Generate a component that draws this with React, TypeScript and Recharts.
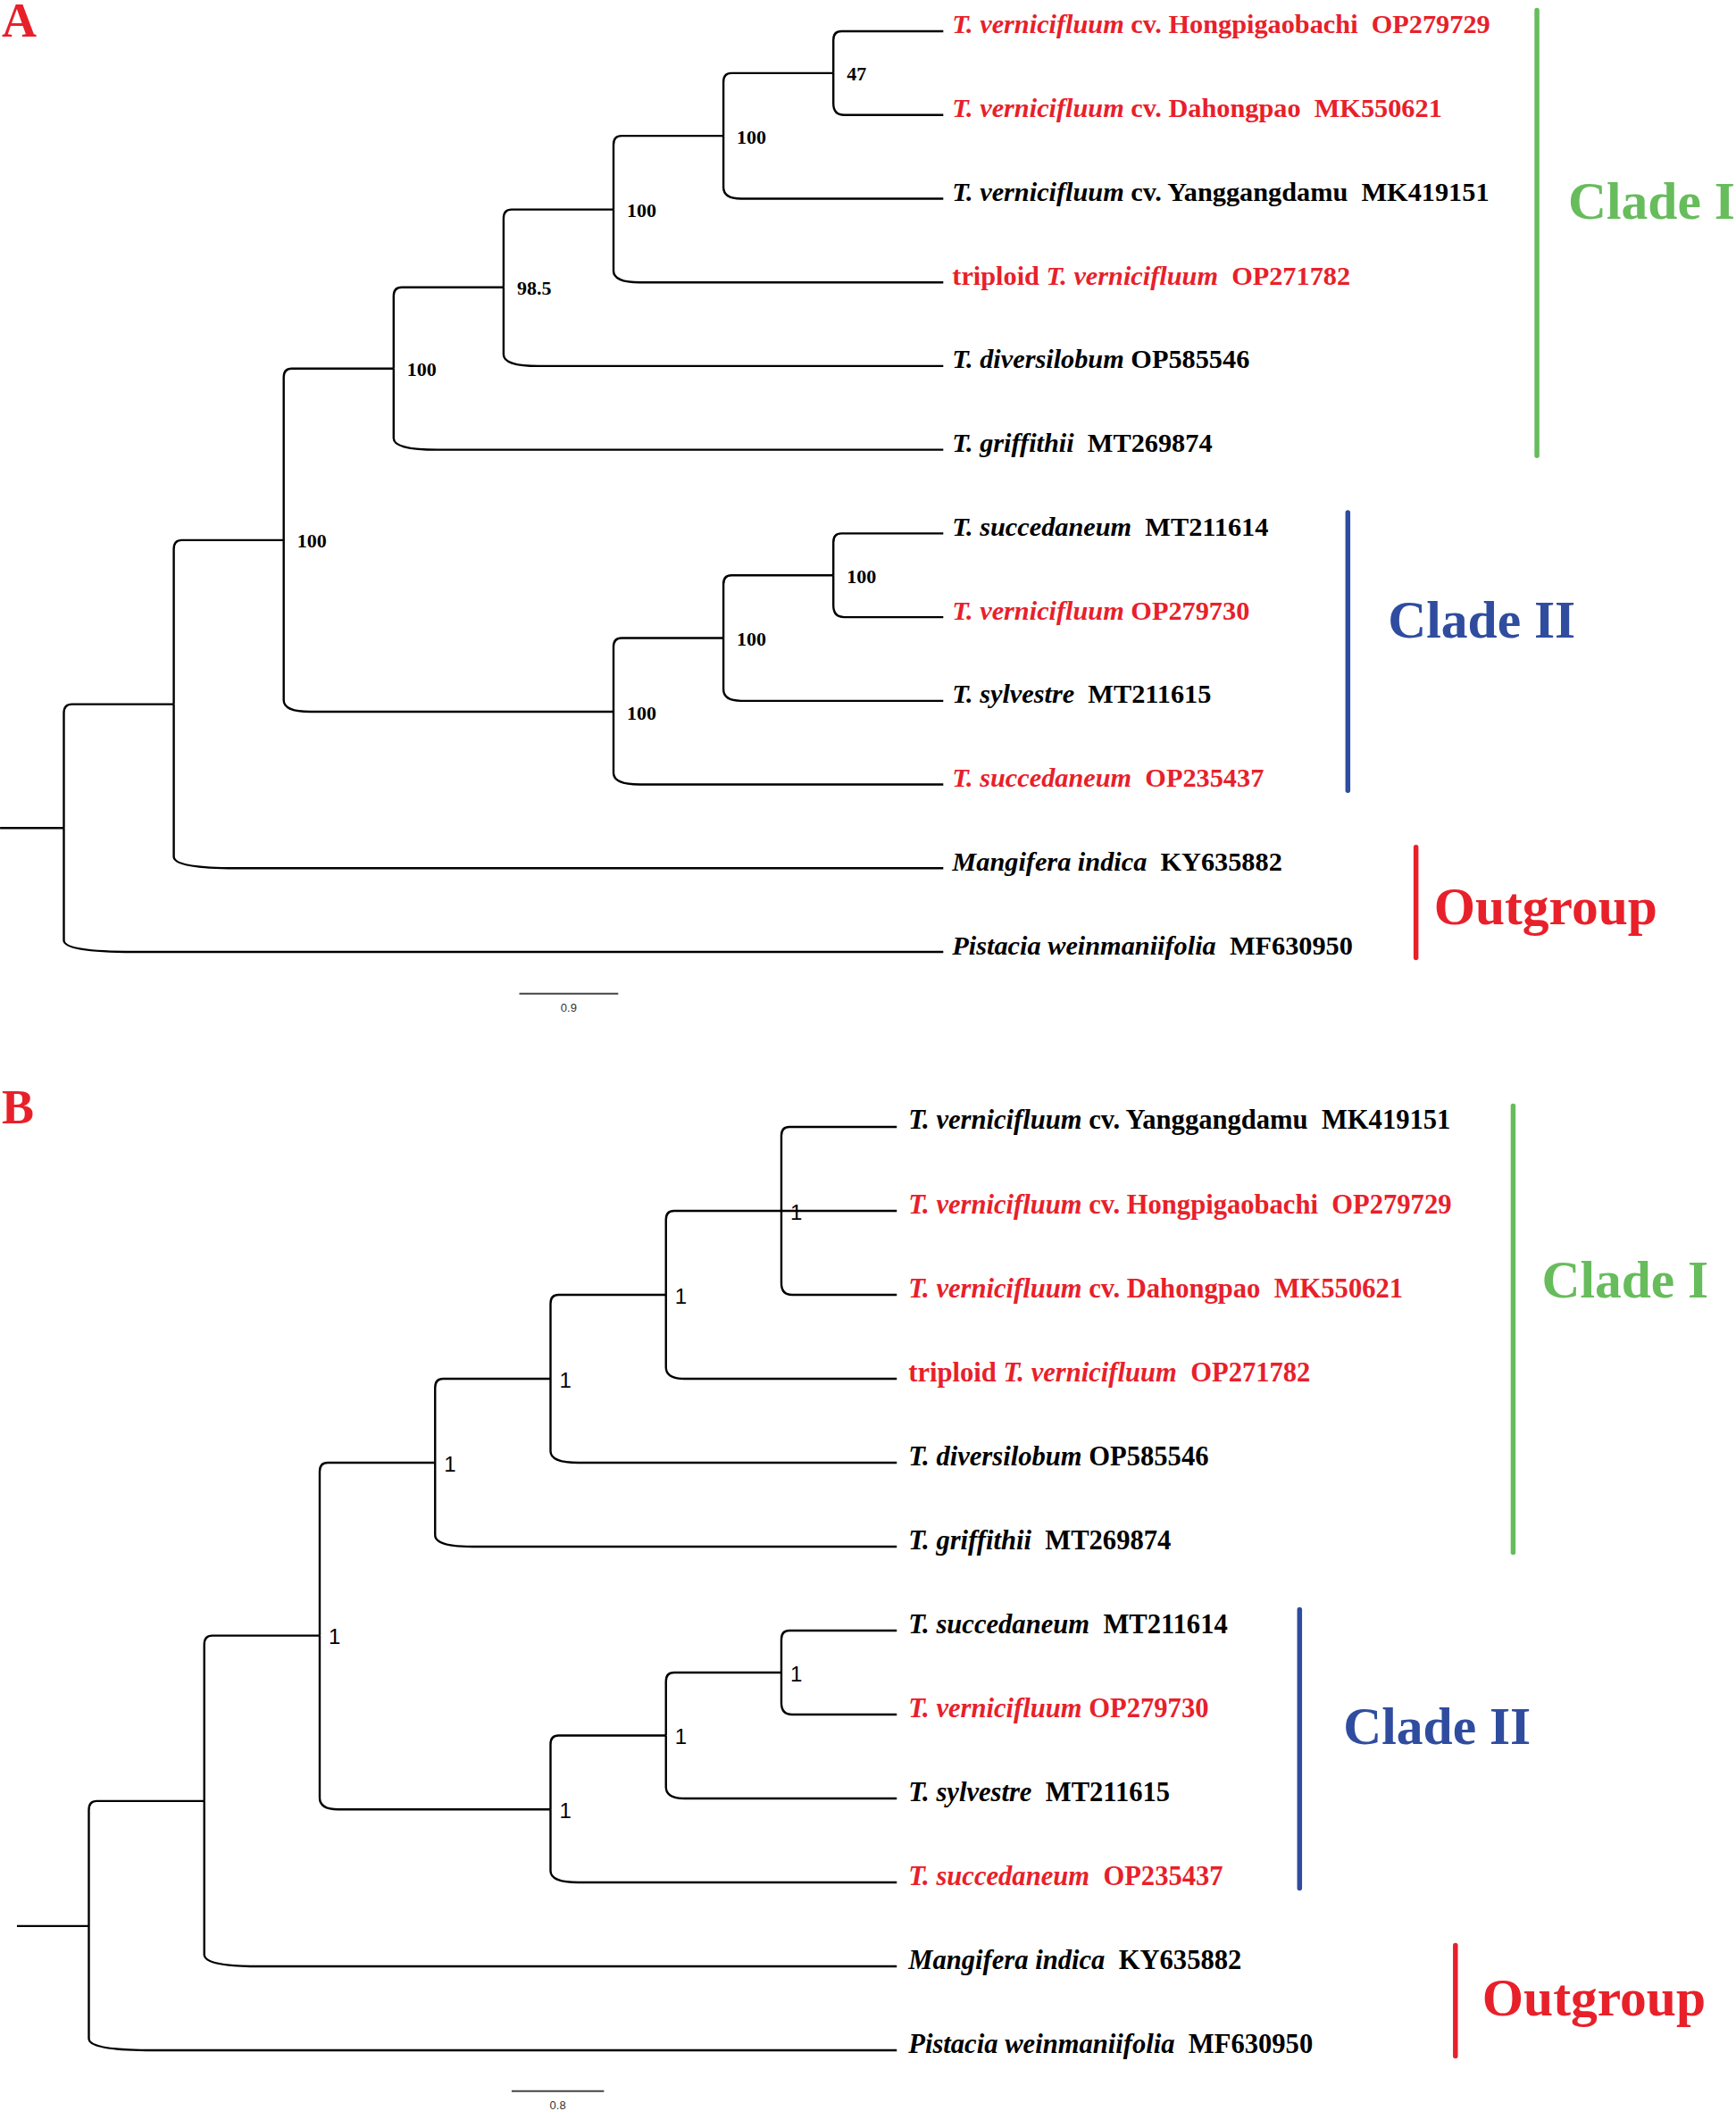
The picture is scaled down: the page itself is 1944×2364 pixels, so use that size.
import React from 'react';
import { ComposedChart, Line, Scatter, XAxis, YAxis } from 'recharts';

// ---------- DATA ----------
type Part = [string, boolean]; // [text, italic]

const taxonLabels: Record<string, Part[]> = {
  hongpi: [['T. vernicifluum', true], [' cv. Hongpigaobachi  OP279729', false]],
  dahong: [['T. vernicifluum', true], [' cv. Dahongpao  MK550621', false]],
  yang: [['T. vernicifluum', true], [' cv. Yanggangdamu  MK419151', false]],
  triploid: [['triploid ', false], ['T. vernicifluum', true], ['  OP271782', false]],
  diversi: [['T. diversilobum', true], [' OP585546', false]],
  griff: [['T. griffithii', true], ['  MT269874', false]],
  succMT: [['T. succedaneum', true], ['  MT211614', false]],
  vernOP: [['T. vernicifluum', true], [' OP279730', false]],
  sylv: [['T. sylvestre', true], ['  MT211615', false]],
  succOP: [['T. succedaneum', true], ['  OP235437', false]],
  mangi: [['Mangifera indica', true], ['  KY635882', false]],
  pista: [['Pistacia weinmaniifolia', true], ['  MF630950', false]],
};
const newlySequenced = ['hongpi', 'dahong', 'triploid', 'vernOP', 'succOP'];

// Panel A (ML bootstrap tree)
const leafOrderA = ['hongpi', 'dahong', 'yang', 'triploid', 'diversi', 'griff', 'succMT', 'vernOP', 'sylv', 'succOP', 'mangi', 'pista'];
const leafParentA = ['a7', 'a7', 'a6', 'a5', 'a4', 'a3', 'a10', 'a10', 'a9', 'a8', 'a1', 'root'];
const nodeIdsA = ['root', 'a1', 'a2', 'a3', 'a4', 'a5', 'a6', 'a7', 'a8', 'a9', 'a10'];
const nodeDepthA = [0, 1, 2, 3, 4, 5, 6, 7, 5, 6, 7];
const nodeYA = [9.52, 8.04, 6.08, 4.03, 3.06, 2.13, 1.25, 0.5, 8.13, 7.25, 6.5];
const nodeParentA = ['', 'root', 'a1', 'a2', 'a3', 'a4', 'a5', 'a6', 'a2', 'a8', 'a9'];
const nodeSupportA = ['', '', '100', '100', '98.5', '100', '100', '47', '100', '100', '100'];
const tipDepthA = 8;
const scaleLengthA = 0.9;
const scaleLabelA = '0.9';

// Panel B (Bayesian posterior tree)
const leafOrderB = ['yang', 'hongpi', 'dahong', 'triploid', 'diversi', 'griff', 'succMT', 'vernOP', 'sylv', 'succOP', 'mangi', 'pista'];
const leafParentB = ['b6', 'b6', 'b6', 'b5', 'b4', 'b3', 'b9', 'b9', 'b8', 'b7', 'b1', 'root'];
const nodeIdsB = ['root', 'b1', 'b2', 'b3', 'b4', 'b5', 'b6', 'b7', 'b8', 'b9'];
const nodeDepthB = [0, 1, 2, 3, 4, 5, 6, 4, 5, 6];
const nodeYB = [9.52, 8.03, 6.06, 4, 3, 2, 1, 8.13, 7.25, 6.5];
const nodeParentB = ['', 'root', 'b1', 'b2', 'b3', 'b4', 'b5', 'b2', 'b7', 'b8'];
const nodeSupportB = ['', '', '1', '1', '1', '1', '1', '1', '1', '1'];
const tipDepthB = 7;
const scaleLengthB = 0.8;
const scaleLabelB = '0.8';

const cladeNames = ['Clade I', 'Clade II', 'Outgroup'];
const cladeLeafRanges = [[0, 5], [6, 9], [10, 11]];

// ---------- STYLE / LAYOUT ----------
const RED = '#E8202A';
const GREEN = '#67BC5C';
const BLUE = '#2F4C9F';
const cladeColors = [GREEN, BLUE, RED];
const SERIF = "'Liberation Serif', 'Times New Roman', Times, serif";
const SANS = "'Liberation Sans', Arial, Helvetica, sans-serif";

type Layout = {
  top: number;
  height: number;
  xDomain: [number, number];
  yDomain: [number, number];
  rootStubX: number;
  scaleX: number;
  scaleY: number;
  cladeX: number[];
  cladeLabelY: number[];
  cladeLabelDx: number[];
  leafDx: number;
  leafFont: number;
  supportFont: string;
  supportWeight: string;
  supportSize: number;
  supportDx: number;
};

const layoutA: Layout = {
  top: 0,
  height: 1180,
  xDomain: [-0.5808, 15.211],
  yDomain: [-0.3734, 12.216],
  rootStubX: -0.58,
  scaleX: 4.143,
  scaleY: 11.498,
  cladeX: [13.4, 11.68, 12.3],
  cladeLabelY: [2.03, 7.04, 10.46],
  cladeLabelDx: [35, 45, 20],
  leafDx: 10,
  leafFont: 30.3,
  supportFont: SERIF,
  supportWeight: 'bold',
  supportSize: 22,
  supportDx: 15,
};

const layoutB: Layout = {
  top: 1180,
  height: 1184,
  xDomain: [-0.7698, 14.271],
  yDomain: [-0.8723, 11.723],
  rootStubX: -0.623,
  scaleX: 3.663,
  scaleY: 11.485,
  cladeX: [12.34, 10.49, 11.84],
  cladeLabelY: [1.82, 7.14, 10.38],
  cladeLabelDx: [32, 49, 30],
  leafDx: 13,
  leafFont: 30.6,
  supportFont: SANS,
  supportWeight: 'normal',
  supportSize: 24,
  supportDx: 10,
};

// Rounded-elbow curve (FigTree style) used for tree branches
const elbowCurve: any = (context: any) => {
  let pts: number[][] = [];
  return {
    areaStart() {},
    areaEnd() {},
    lineStart() {
      pts = [];
    },
    point(x: number, y: number) {
      pts.push([+x, +y]);
    },
    lineEnd() {
      if (pts.length < 2) return;
      const [x0, y0] = pts[0];
      const [x1, y1] = pts[pts.length - 1];
      context.moveTo(x0, y0);
      const dyAbs = Math.abs(y1 - y0);
      if (dyAbs < 1) {
        context.lineTo(x1, y1);
        return;
      }
      const s = y1 > y0 ? 1 : -1;
      const len = x1 - x0;
      const ry = Math.min(s > 0 ? 13 : 10, dyAbs);
      const rx = Math.min(s > 0 ? Math.max(12, 0.08 * len) : 9, len);
      context.lineTo(x0, y1 - s * ry);
      context.quadraticCurveTo(x0, y1, x0 + rx, y1);
      context.lineTo(x1, y1);
    },
  };
};

type TreeData = {
  leafOrder: string[];
  leafParent: string[];
  nodeIds: string[];
  nodeDepth: number[];
  nodeY: number[];
  nodeParent: string[];
  nodeSupport: string[];
  tipDepth: number;
  scaleLength: number;
  scaleLabel: string;
};

function Panel({ tree, layout }: { tree: TreeData; layout: Layout }) {
  const pos: Record<string, { x: number; y: number }> = {};
  tree.nodeIds.forEach((id, i) => {
    pos[id] = { x: tree.nodeDepth[i], y: tree.nodeY[i] };
  });

  const edges: { x: number; y: number }[][] = [];
  tree.nodeIds.forEach((id, i) => {
    const p = tree.nodeParent[i];
    if (p) edges.push([{ ...pos[p] }, { ...pos[id] }]);
  });
  tree.leafOrder.forEach((_, i) => {
    const p = pos[tree.leafParent[i]];
    edges.push([{ ...p }, { x: tree.tipDepth, y: i }]);
  });

  const rootStub = [
    { x: layout.rootStubX, y: pos['root'].y },
    { x: pos['root'].x, y: pos['root'].y },
  ];

  const leafPoints = tree.leafOrder.map((key, i) => ({ x: tree.tipDepth, y: i, key }));
  const supportPoints = tree.nodeIds
    .map((id, i) => ({ x: tree.nodeDepth[i], y: tree.nodeY[i], label: tree.nodeSupport[i] }))
    .filter((d) => d.label);

  const cladeBars = cladeLeafRanges.map((r, i) => [
    { x: layout.cladeX[i], y: r[0] - 0.25 },
    { x: layout.cladeX[i], y: r[1] + 0.07 },
  ]);
  const cladeLabelPoints = cladeNames.map((name, i) => ({
    x: layout.cladeX[i],
    y: layout.cladeLabelY[i],
    name,
    idx: i,
  }));

  const scaleBar = [
    { x: layout.scaleX, y: layout.scaleY },
    { x: layout.scaleX + tree.scaleLength, y: layout.scaleY },
  ];
  const scaleLabelPoint = [{ x: layout.scaleX + tree.scaleLength / 2, y: layout.scaleY, label: tree.scaleLabel }];

  return (
    <div style={{ position: 'absolute', left: 0, top: layout.top, width: 1944, height: layout.height }}>
      <ComposedChart width={1944} height={layout.height} margin={{ top: 0, right: 0, bottom: 0, left: 0 }}>
        <XAxis type="number" dataKey="x" domain={layout.xDomain} allowDataOverflow hide />
        <YAxis type="number" dataKey="y" domain={layout.yDomain} allowDataOverflow reversed hide />
        <Line
          data={rootStub}
          dataKey="y"
          type="linear"
          stroke="#000"
          strokeWidth={2.4}
          dot={false}
          activeDot={false}
          isAnimationActive={false}
          legendType="none"
        />
        {edges.map((e, i) => (
          <Line
            key={'e' + i}
            data={e}
            dataKey="y"
            type={elbowCurve}
            stroke="#000"
            strokeWidth={2.4}
            fill="none"
            dot={false}
            activeDot={false}
            isAnimationActive={false}
            legendType="none"
          />
        ))}
        {cladeBars.map((b, i) => (
          <Line
            key={'c' + i}
            data={b}
            dataKey="y"
            type="linear"
            stroke={cladeColors[i]}
            strokeWidth={5.5}
            strokeLinecap="round"
            dot={false}
            activeDot={false}
            isAnimationActive={false}
            legendType="none"
          />
        ))}
        <Line
          data={scaleBar}
          dataKey="y"
          type="linear"
          stroke="#444"
          strokeWidth={2}
          dot={false}
          activeDot={false}
          isAnimationActive={false}
          legendType="none"
        />
        <Scatter
          data={leafPoints}
          isAnimationActive={false}
          legendType="none"
          shape={(p: any) => {
            const key = p.payload.key;
            const parts = taxonLabels[key];
            const color = newlySequenced.includes(key) ? RED : '#000';
            return (
              <text
                x={p.cx + layout.leafDx}
                y={p.cy + 2.5}
                fontFamily={SERIF}
                fontWeight="bold"
                fontSize={layout.leafFont}
                fill={color}
                style={{ whiteSpace: 'pre' }}
              >
                {parts.map(([t, it], j) => (
                  <tspan key={j} fontStyle={it ? 'italic' : 'normal'}>
                    {t}
                  </tspan>
                ))}
              </text>
            );
          }}
        />
        <Scatter
          data={supportPoints}
          isAnimationActive={false}
          legendType="none"
          shape={(p: any) => (
            <text
              x={p.cx + layout.supportDx}
              y={p.cy + 1}
              dominantBaseline="central"
              fontFamily={layout.supportFont}
              fontWeight={layout.supportWeight}
              fontSize={layout.supportSize}
              fill="#000"
            >
              {p.payload.label}
            </text>
          )}
        />
        <Scatter
          data={cladeLabelPoints}
          isAnimationActive={false}
          legendType="none"
          shape={(p: any) => (
            <text
              x={p.cx + layout.cladeLabelDx[p.payload.idx]}
              y={p.cy + 19.5}
              fontFamily={SERIF}
              fontWeight="bold"
              fontSize={59.5}
              fill={cladeColors[p.payload.idx]}
            >
              {p.payload.name}
            </text>
          )}
        />
        <Scatter
          data={scaleLabelPoint}
          isAnimationActive={false}
          legendType="none"
          shape={(p: any) => (
            <text x={p.cx} y={p.cy + 20} textAnchor="middle" fontFamily={SANS} fontSize={13} fill="#333">
              {p.payload.label}
            </text>
          )}
        />
      </ComposedChart>
    </div>
  );
}

const treeA: TreeData = {
  leafOrder: leafOrderA,
  leafParent: leafParentA,
  nodeIds: nodeIdsA,
  nodeDepth: nodeDepthA,
  nodeY: nodeYA,
  nodeParent: nodeParentA,
  nodeSupport: nodeSupportA,
  tipDepth: tipDepthA,
  scaleLength: scaleLengthA,
  scaleLabel: scaleLabelA,
};

const treeB: TreeData = {
  leafOrder: leafOrderB,
  leafParent: leafParentB,
  nodeIds: nodeIdsB,
  nodeDepth: nodeDepthB,
  nodeY: nodeYB,
  nodeParent: nodeParentB,
  nodeSupport: nodeSupportB,
  tipDepth: tipDepthB,
  scaleLength: scaleLengthB,
  scaleLabel: scaleLabelB,
};

export default function App() {
  return (
    <div style={{ position: 'absolute', left: 0, top: 0, width: 1944, height: 2364, background: '#fff', overflow: 'hidden' }}>
      <Panel tree={treeA} layout={layoutA} />
      <Panel tree={treeB} layout={layoutB} />
      <svg width={1944} height={2364} style={{ position: 'absolute', left: 0, top: 0, pointerEvents: 'none' }}>
        <text x={2} y={41} fontFamily={SERIF} fontWeight="bold" fontSize={54} fill={RED}>
          A
        </text>
        <text x={2} y={1258} fontFamily={SERIF} fontWeight="bold" fontSize={54} fill={RED}>
          B
        </text>
      </svg>
    </div>
  );
}
